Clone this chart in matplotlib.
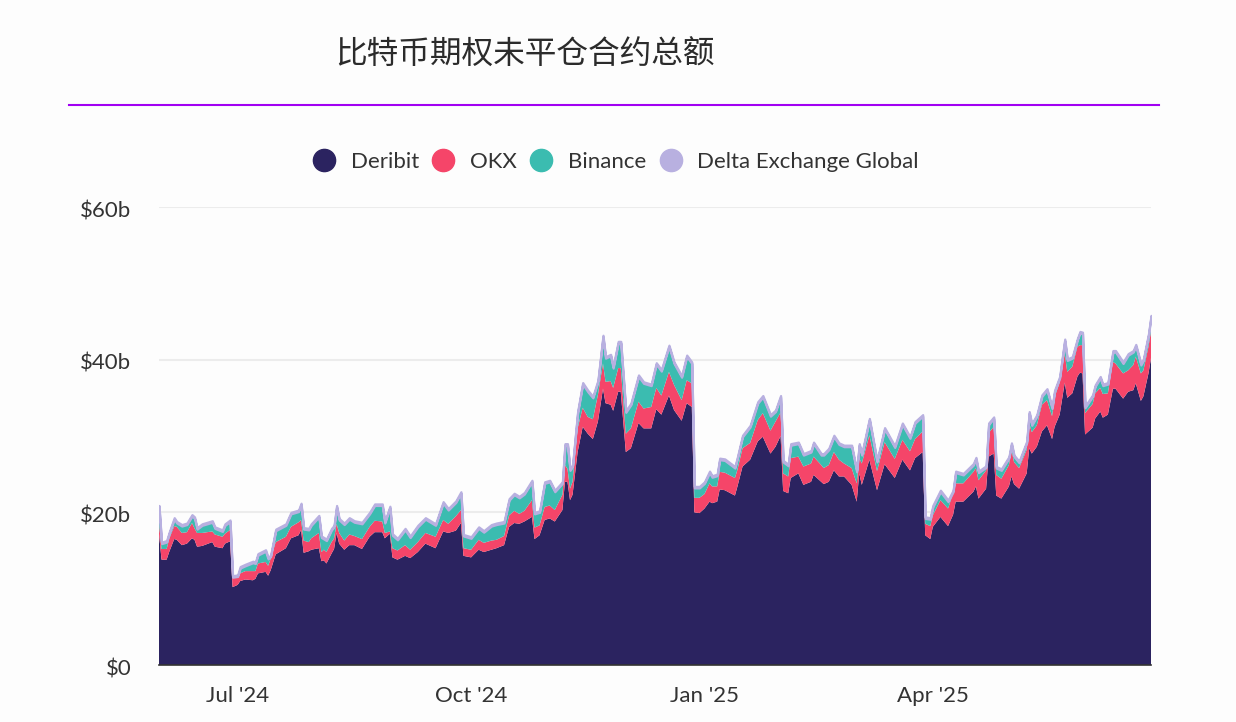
import numpy as np
import matplotlib
matplotlib.use('Agg')
import matplotlib.pyplot as plt
import matplotlib.dates as mdates
import matplotlib.transforms as mtrans
from matplotlib.lines import Line2D

plt.rcParams['font.family'] = ['Lato', 'DejaVu Sans']

# days after 31 May 2024, values in $b
days = [0,1,3,4,6,7,9,11,13,14,15,17,21,22,25,26,28,29,31,32,34,37,38,39,42,43,44,46,50,52,55,56,57,59,60,63,64,
        65,66,68,69,70,71,73,75,77,80,83,85,88,89,91,92,94,97,99,102,105,109,112,114,117,119,120,123,126,128,131,
        133,136,138,140,142,144,147,148,150,152,154,156,159,160,161,162,163,165,167,169,171,173,175,176,178,179,181,182,184,186,189,191,194,
        196,198,201,203,206,208,210,211,213,215,217,218,220,221,223,227,228,230,233,236,238,241,243,245,246,248,249,252,254,257,258,261,
        262,264,266,268,270,273,275,276,277,280,283,286,290,293,296,298,301,302,304,305,308,311,313,314,317,321,322,323,326,
        327,329,330,332,335,336,337,339,342,343,344,346,348,350,352,353,355,357,358,360,362,363,364,365,368,369,371,372,374,376,377,380,382,384,385,387,388,390,391]

deribit = [17.2,13.8,13.8,14.8,16.5,16.4,15.7,15.9,16.6,16.4,15.5,15.6,16.1,15.5,15.3,15.9,16.2,10.2,10.5,11.0,11.2,11.1,11.3,12.0,12.2,11.7,12.4,14.5,15.3,16.6,17.0,17.7,14.7,14.9,15.1,15.3,13.6,
           13.7,13.3,14.6,15.2,17.3,15.9,15.1,15.7,15.7,15.2,16.8,17.4,17.4,16.6,17.2,14.1,13.8,14.3,14.0,14.8,15.9,15.3,17.5,17.3,17.6,18.6,14.3,14.1,15.1,14.8,15.1,
           15.3,15.7,18.1,18.6,18.5,18.8,19.4,16.5,17.0,19.0,19.2,18.8,20.3,24.0,24.0,21.6,22.3,27.9,31.2,30.3,29.6,31.9,36.2,34.3,34.1,33.3,35.8,35.8,27.9,28.4,31.7,31.0,31.0,
           33.5,32.8,35.3,33.4,32.0,34.3,33.8,20.0,19.9,20.5,21.4,21.2,21.4,23.0,22.9,22.2,23.4,26.0,26.9,29.3,29.9,27.7,28.6,30.0,22.8,22.5,24.5,25.1,23.6,24.0,24.9,24.0,
           23.7,24.0,25.5,24.7,24.7,23.6,21.4,25.1,23.6,26.9,22.9,26.3,24.5,26.9,25.5,27.1,27.9,17.0,16.5,18.1,19.4,18.2,19.7,21.4,21.4,22.7,23.4,21.8,23.1,
           27.3,27.7,22.2,21.8,23.4,24.7,23.7,23.1,25.1,28.4,27.7,28.6,30.6,31.4,29.6,31.2,32.8,37.0,35.0,35.6,37.8,38.3,38.2,30.2,31.1,32.3,33.2,32.4,32.8,36.2,36.2,34.9,35.8,36.0,36.9,34.6,35.2,38.2,40.2]

okx = [1.3,1.4,1.4,1.7,1.7,1.7,1.6,1.5,2.0,1.5,1.8,1.7,1.4,1.6,1.5,1.3,1.5,1.2,0.9,1.0,1.1,1.2,1.0,1.3,1.3,1.3,1.5,1.6,1.5,1.5,1.7,1.3,1.6,1.2,1.5,2.0,1.2,
       1.4,1.5,1.5,1.4,1.2,1.4,1.2,1.4,1.2,1.3,1.3,1.5,1.4,0.7,0.3,1.2,1.2,1.4,1.1,1.3,1.4,1.5,1.5,1.2,1.9,1.7,1.0,1.0,1.3,1.2,1.2,
       1.1,1.2,1.5,1.6,1.3,1.4,2.2,1.5,1.3,1.7,1.7,1.5,2.0,2.2,1.7,1.5,1.7,3.1,2.5,2.2,2.6,3.5,3.3,2.8,3.1,3.0,3.1,3.1,2.4,2.6,2.8,2.6,2.8,
       2.8,2.5,3.1,3.3,2.7,3.0,3.1,1.9,2.0,1.9,2.4,2.2,2.0,2.3,2.3,2.3,2.2,2.4,2.2,2.8,3.1,3.0,3.3,3.1,2.3,2.2,2.6,2.2,2.4,2.4,2.4,2.2,
       2.1,2.2,2.4,2.2,1.7,2.2,2.4,2.0,2.8,3.2,2.5,2.9,2.5,2.6,2.5,2.5,2.7,1.5,1.7,1.5,2.2,2.3,2.8,2.4,2.4,2.6,2.4,2.4,2.4,
       3.1,3.5,2.7,2.6,2.8,3.5,2.9,2.7,3.1,3.3,2.8,2.8,3.5,3.3,3.0,3.9,4.2,3.8,3.4,3.5,3.9,3.6,3.7,2.8,3.1,3.3,3.1,3.1,2.8,3.5,3.3,3.3,2.8,3.3,3.5,3.6,3.4,3.5,3.5]

binance = [2.2,0.7,0.9,0.7,0.9,0.5,0.9,1.0,0.9,1.3,0.5,1.0,1.2,0.8,0.7,1.1,1.1,0.1,0.2,0.7,0.7,1.1,1.0,1.1,1.4,0.9,0.3,1.5,1.5,1.7,1.4,2.0,1.5,1.6,1.7,2.1,1.9,
           1.4,1.5,1.6,1.5,2.2,1.7,2.1,2.0,1.8,2.0,1.7,2.0,2.1,1.3,3.1,1.7,1.4,2.0,1.6,2.0,1.8,1.5,2.2,1.8,1.8,2.2,1.6,1.5,1.5,1.4,1.9,
           2.0,1.7,2.0,2.1,2.1,2.2,2.4,1.8,1.7,3.1,3.1,2.4,1.5,2.6,3.1,2.4,2.0,2.0,3.1,3.3,2.8,1.7,3.5,3.1,3.3,2.6,3.3,3.3,2.8,3.1,3.3,3.3,2.8,
           3.1,3.2,3.3,2.8,3.0,3.1,2.6,1.3,1.3,1.4,1.4,1.2,1.4,1.6,1.6,1.3,1.5,1.5,2.1,2.2,2.1,1.9,1.3,2.0,1.5,1.4,1.7,1.7,1.5,1.5,1.7,1.3,
           1.7,2.0,2.0,2.0,2.2,2.8,1.5,1.7,1.1,2.0,1.2,1.7,1.5,2.0,1.7,2.1,2.0,0.7,0.9,1.1,1.1,0.9,0.2,1.4,1.1,0.9,1.2,1.0,0.4,
           1.1,1.1,0.9,1.1,0.9,0.7,0.7,0.7,0.9,1.3,0.9,1.2,1.1,1.3,1.0,0.7,0.6,1.7,1.5,1.1,0.9,1.6,1.5,0.7,1.0,0.9,1.3,1.1,1.2,1.3,1.5,1.3,2.0,1.7,1.4,1.1,1.3,1.5,1.9]

# thin top band, about the same all the way across
delta = [0.2] * len(days)

names = ['Deribit', 'OKX', 'Binance', 'Delta Exchange Global']
colors = ['#2b2360', '#f54569', '#3bbcb0', '#b8b0e0']
y_ticks = [0, 20, 40, 60]
y_labels = ['$0', '$20b', '$40b', '$60b']

dates = [np.datetime64('2024-05-31') + np.timedelta64(d, 'D') for d in days]
dates = mdates.date2num(dates)

W, H = 1236, 722
fig = plt.figure(figsize=(W / 100, H / 100), dpi=100, facecolor='#fdfdfd')
ax = fig.add_axes([159 / W, 1 - 665 / H, 992 / W, 458 / H])
ax.set_facecolor('#fdfdfd')

polys = ax.stackplot(dates, deribit, okx, binance, delta, colors=colors, linewidth=0, zorder=3)
polys[3].set_edgecolor(colors[3])
polys[3].set_linewidth(1.6)

ax.set_xlim(dates[0], dates[-1])
ax.set_ylim(0, 60)
ax.set_yticks(y_ticks)
ax.set_yticklabels(y_labels)
ax.xaxis.set_major_locator(mdates.MonthLocator(bymonth=[1, 4, 7, 10]))
ax.xaxis.set_major_formatter(mdates.DateFormatter("%b '%y"))
ax.tick_params(axis='both', length=0, labelsize=16, labelcolor='#333333')
ax.tick_params(axis='x', pad=15)
ax.tick_params(axis='y', pad=20)
ax.grid(axis='y', color='#ececec', linewidth=1.5)
ax.set_axisbelow(True)
for side in ['top', 'right', 'left']:
    ax.spines[side].set_visible(False)
ax.spines['bottom'].set_color('#333333')
ax.spines['bottom'].set_linewidth(1.2)
ax.spines['bottom'].set_zorder(5)

# y labels sit a little below their grid lines
for lab in ax.get_yticklabels():
    lab.set_transform(lab.get_transform() + mtrans.ScaledTranslation(0, -2 / 100, fig.dpi_scale_trans))

handles = [Line2D([], [], linestyle='none', marker='o', markersize=16, color=c) for c in colors]
fig.legend(handles, names, loc='center', bbox_to_anchor=(616 / W, 1 - 162 / H), ncols=4, frameon=False,
           fontsize=16, labelcolor='#333333', handlelength=1.0, handletextpad=0.7, columnspacing=0.6)

fig.text(525 / W, 1 - 55 / H, '比特币期权未平仓合约总额', ha='center', va='center', fontsize=22.8,
         color='#2b2b2b', family=['Noto Sans CJK SC', 'DejaVu Sans'])
fig.add_artist(Line2D([69 / W, 1159 / W], [1 - 105 / H, 1 - 105 / H], color='#a100f2', linewidth=1.5))

fig.savefig('out.png', dpi=100, facecolor=fig.get_facecolor())
